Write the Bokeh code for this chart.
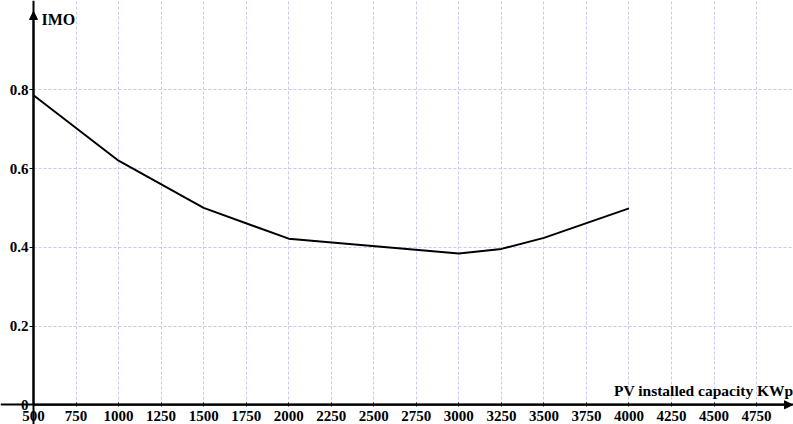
from bokeh.plotting import figure
from bokeh.models import (Range1d, FixedTicker, CustomJSTickFormatter, Arrow,
                          NormalHead, Label)
from bokeh.embed import file_html
from bokeh.resources import INLINE

# ---- data ----
pv_capacity = [500, 1000, 1500, 2000, 3000, 3250, 3500, 4000]
imo_values = [0.786, 0.62, 0.5, 0.422, 0.384, 0.396, 0.424, 0.499]
x_ticks = [500, 750, 1000, 1250, 1500, 1750, 2000, 2250, 2500, 2750, 3000,
           3250, 3500, 3750, 4000, 4250, 4500, 4750]
y_ticks = [0, 0.2, 0.4, 0.6, 0.8]
x_title = "PV installed capacity KWp"
y_title = "IMO"

FONT = "Liberation Serif"
GRID = "#c8c8f8"
X_END = 4967
Y_END = 1.0268

p = figure(width=793, height=424, output_backend="svg", toolbar_location=None,
           x_range=Range1d(306, X_END), y_range=Range1d(-0.05, Y_END),
           min_border=0, outline_line_color=None)

for ax in (p.xaxis[0], p.yaxis[0]):
    ax.axis_line_width = 2
    ax.axis_line_color = "black"
    ax.major_tick_line_color = "black"
    ax.major_tick_line_width = 1
    ax.minor_tick_line_color = None
    ax.major_label_text_font = FONT
    ax.major_label_text_font_style = "bold"
    ax.major_label_text_font_size = "15px"
    ax.major_label_text_color = "black"

p.xaxis.fixed_location = 0
p.yaxis.fixed_location = 500
p.xaxis.ticker = FixedTicker(ticks=x_ticks)
p.yaxis.ticker = FixedTicker(ticks=y_ticks)
p.yaxis.formatter = CustomJSTickFormatter(
    code="return tick == 0 ? '0' : tick.toFixed(1);")
p.xaxis.major_tick_in = 2
p.xaxis.major_tick_out = 2
p.xaxis.major_label_standoff = 4
p.yaxis.major_tick_in = 0
p.yaxis.major_tick_out = 4
p.yaxis.major_label_standoff = 1

p.xgrid.ticker = FixedTicker(ticks=x_ticks[1:])
p.ygrid.ticker = FixedTicker(ticks=y_ticks[1:])
for g in (p.xgrid[0], p.ygrid[0]):
    g.grid_line_color = GRID
    g.grid_line_dash = "3 2"
    g.grid_line_width = 1
p.xgrid.cross_bounds = (0, Y_END)
p.ygrid.cross_bounds = (500, X_END)

p.line(pv_capacity, imo_values, line_color="black", line_width=2)

p.add_layout(Arrow(end=NormalHead(size=8, fill_color="black", line_color="black"),
                   x_start=500, y_start=0, x_end=4961, y_end=0,
                   line_color="black", line_width=2))
p.add_layout(Arrow(end=NormalHead(size=8, fill_color="black", line_color="black"),
                   x_start=500, y_start=0, x_end=500, y_end=0.999,
                   line_color="black", line_width=2))

p.add_layout(Label(x=500, y=0.999, x_offset=8, y_offset=0, text=y_title,
                   text_font=FONT, text_font_style="bold", text_font_size="16px",
                   text_baseline="top", text_align="left", text_color="black"))
p.add_layout(Label(x=X_END, y=0, y_offset=6, text=x_title,
                   text_font=FONT, text_font_style="bold", text_font_size="15.5px",
                   text_baseline="bottom", text_align="right", text_color="black"))

open("out.html", "w").write(file_html(p, INLINE))
